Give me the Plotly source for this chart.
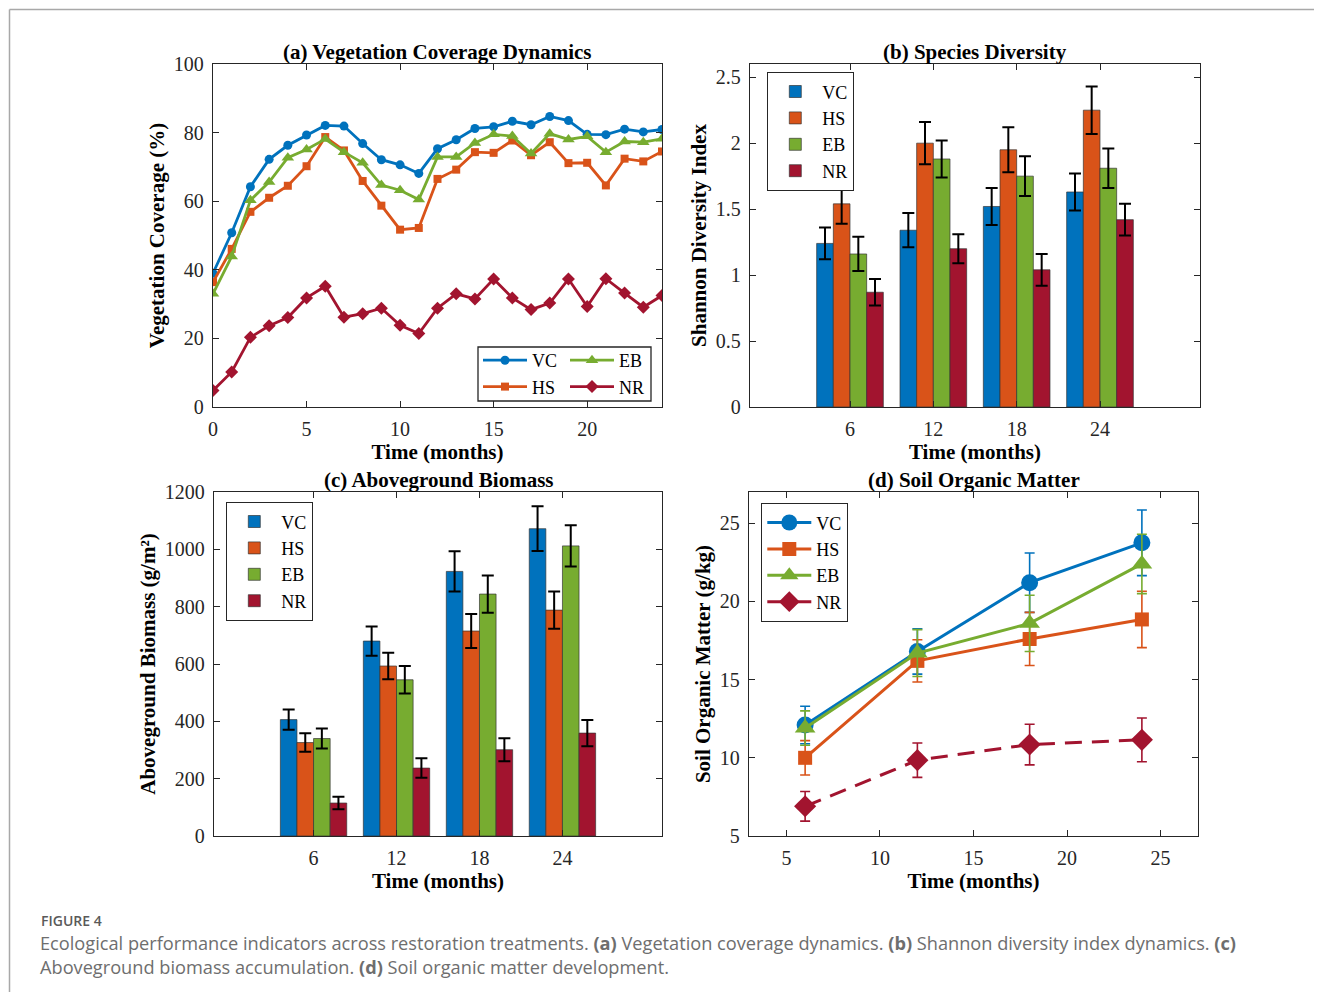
import plotly.graph_objects as go

# ---------------- data ----------------
treatments = ["VC", "HS", "EB", "NR"]
colors = {"VC": "#0072BD", "HS": "#D95319", "EB": "#77AC30", "NR": "#A2142F"}

# (a) vegetation coverage, monthly 0..24
months = list(range(0, 25))
cov_VC = [39.0, 50.8, 64.2, 72.2, 76.3, 79.3, 82.1, 81.9, 76.8, 72.1, 70.6, 68.1, 75.3,
          77.9, 81.2, 81.7, 83.3, 82.3, 84.7, 83.5, 79.5, 79.4, 81.0, 80.2, 80.9]
cov_HS = [36.4, 46.1, 56.9, 61.0, 64.5, 70.2, 78.7, 74.8, 65.9, 58.7, 51.7, 52.2, 66.5,
          69.2, 74.3, 74.1, 77.7, 73.4, 77.2, 71.1, 71.2, 64.6, 72.4, 71.6, 74.5]
cov_EB = [33.0, 43.9, 60.3, 65.6, 72.7, 75.1, 78.1, 74.3, 71.2, 64.7, 63.2, 60.5, 72.9,
          72.9, 77.0, 79.5, 79.0, 73.9, 79.7, 78.0, 78.9, 74.3, 77.4, 77.2, 78.2]
cov_NR = [4.8, 10.2, 20.3, 23.7, 26.1, 31.8, 35.2, 26.2, 27.2, 28.8, 23.8, 21.4, 28.8,
          33.0, 31.5, 37.3, 31.8, 28.4, 30.3, 37.3, 29.3, 37.4, 33.2, 29.1, 32.5]

# sampling times for (b), (c), (d)
sample_months = [6, 12, 18, 24]
sample_labels = ["6", "12", "18", "24"]

# (b) Shannon diversity index and error
div_VC = [1.24, 1.34, 1.52, 1.63]
div_HS = [1.54, 2.00, 1.95, 2.25]
div_EB = [1.16, 1.88, 1.75, 1.81]
div_NR = [0.87, 1.20, 1.04, 1.42]
div_err_VC = [0.12, 0.13, 0.14, 0.14]
div_err_HS = [0.15, 0.16, 0.17, 0.18]
div_err_EB = [0.13, 0.14, 0.15, 0.15]
div_err_NR = [0.10, 0.11, 0.12, 0.12]

# (c) aboveground biomass and error
bio_VC = [406, 680, 923, 1072]
bio_HS = [326, 593, 715, 788]
bio_EB = [340, 545, 844, 1012]
bio_NR = [115, 237, 301, 359]
bio_err_VC = [35, 51, 70, 78]
bio_err_HS = [32, 46, 59, 65]
bio_err_EB = [35, 48, 65, 72]
bio_err_NR = [22, 34, 40, 46]

# (d) soil organic matter and error
som_VC = [12.1, 16.8, 21.2, 23.75]
som_HS = [10.0, 16.2, 17.6, 18.85]
som_EB = [11.9, 16.7, 18.6, 22.4]
som_NR = [6.9, 9.85, 10.85, 11.15]
som_err_VC = [1.2, 1.45, 1.9, 2.1]
som_err_HS = [1.1, 1.35, 1.7, 1.8]
som_err_EB = [1.1, 1.5, 1.8, 1.9]
som_err_NR = [0.95, 1.1, 1.3, 1.4]

caption_head = "FIGURE 4"
caption_line1 = ("Ecological performance indicators across restoration treatments. <b>(a)</b> Vegetation "
                 "coverage dynamics. <b>(b)</b> Shannon diversity index dynamics. <b>(c)</b>")
caption_line2 = "Aboveground biomass accumulation. <b>(d)</b> Soil organic matter development."

cov = {"VC": cov_VC, "HS": cov_HS, "EB": cov_EB, "NR": cov_NR}
div = {"VC": div_VC, "HS": div_HS, "EB": div_EB, "NR": div_NR}
div_err = {"VC": div_err_VC, "HS": div_err_HS, "EB": div_err_EB, "NR": div_err_NR}
bio = {"VC": bio_VC, "HS": bio_HS, "EB": bio_EB, "NR": bio_NR}
bio_err = {"VC": bio_err_VC, "HS": bio_err_HS, "EB": bio_err_EB, "NR": bio_err_NR}
som = {"VC": som_VC, "HS": som_HS, "EB": som_EB, "NR": som_NR}
som_err = {"VC": som_err_VC, "HS": som_err_HS, "EB": som_err_EB, "NR": som_err_NR}

# ---------------- styling ----------------
# page is 1322x1000; the html body keeps its default 8px margin, so the
# figure itself is 16px smaller and everything is positioned in page pixels
OFF = 8
W, H = 1322 - 2 * OFF, 1000 - 2 * OFF
SERIF = "Liberation Serif, Times New Roman, serif"
INK = "#262626"
symbols = {"VC": "circle", "HS": "square", "EB": "triangle-up", "NR": "diamond"}
size_a = {"VC": 9, "HS": 8, "EB": 11, "NR": 10}
size_d = {"VC": 17, "HS": 14, "EB": 18, "NR": 17}

def px_x(p):
    return (p - OFF) / W

def px_y(p):
    return 1 - (p - OFF) / H

fig = go.Figure()

# (a) lines
legend_a = {"VC": "legend", "HS": "legend", "EB": "legend2", "NR": "legend2"}
for t in treatments:
    fig.add_trace(go.Scatter(
        x=months, y=cov[t], name=t, mode="lines+markers",
        line=dict(color=colors[t], width=2.8),
        marker=dict(symbol=symbols[t], size=size_a[t], color=colors[t]),
        xaxis="x", yaxis="y", legend=legend_a[t]))

# (b) bars
for t in treatments:
    fig.add_trace(go.Bar(
        x=sample_labels, y=div[t], name=t,
        marker=dict(color=colors[t], line=dict(color="rgba(50,50,50,0.85)", width=0.8)),
        error_y=dict(type="data", array=div_err[t], color="black", thickness=2, width=6),
        xaxis="x2", yaxis="y2", legend="legend3"))

# (c) bars
for t in treatments:
    fig.add_trace(go.Bar(
        x=sample_labels, y=bio[t], name=t,
        marker=dict(color=colors[t], line=dict(color="rgba(50,50,50,0.85)", width=0.8)),
        error_y=dict(type="data", array=bio_err[t], color="black", thickness=2, width=6),
        xaxis="x3", yaxis="y3", legend="legend4"))

# (d) lines with error bars
for t in treatments:
    fig.add_trace(go.Scatter(
        x=sample_months, y=som[t], name=t, mode="lines+markers",
        line=dict(color=colors[t], width=3, dash="17px,10px" if t == "NR" else "solid"),
        marker=dict(symbol=symbols[t], size=size_d[t], color=colors[t]),
        error_y=dict(type="data", array=som_err[t], color=colors[t], thickness=1.6, width=5),
        xaxis="x4", yaxis="y4", legend="legend5"))

axis_common = dict(
    showline=True, mirror="ticks", linecolor=INK, linewidth=1.3,
    ticks="inside", ticklen=6, tickwidth=1.2, tickcolor=INK,
    showgrid=False, zeroline=False, automargin=False,
    tickfont=dict(family=SERIF, size=20, color=INK),
    ticklabelstandoff=4,
)
title_font = dict(family=SERIF, size=21, color="black", weight="bold")

def xt(text):
    return dict(text=text, font=title_font, standoff=5)

def yt(text):
    return dict(text=text, font=title_font, standoff=3)

dom_a_x = [px_x(213), px_x(662)]
dom_b_x = [px_x(750), px_x(1200)]
dom_c_x = [px_x(214), px_x(662)]
dom_d_x = [px_x(749), px_x(1198)]
dom_top_y = [px_y(407), px_y(64)]
dom_bot_y = [px_y(836), px_y(492)]

fig.update_layout(
    width=W, height=H, margin=dict(l=0, r=0, t=0, b=0, pad=0, autoexpand=False),
    paper_bgcolor="white", plot_bgcolor="white",
    font=dict(family=SERIF, color=INK),
    barmode="group", bargap=0.2, bargroupgap=0,
    xaxis=dict(domain=dom_a_x, range=[0, 24], dtick=5, tick0=0, anchor="y",
               title=xt("Time (months)"), **axis_common),
    yaxis=dict(domain=dom_top_y, range=[0, 100], dtick=20, anchor="x",
               title=yt("Vegetation Coverage (%)"), **axis_common),
    xaxis2=dict(domain=dom_b_x, type="category", range=[-1.2, 4.2], anchor="y2",
                title=xt("Time (months)"), **axis_common),
    yaxis2=dict(domain=dom_top_y, range=[0, 2.6], dtick=0.5, tick0=0, anchor="x2",
                title=yt("Shannon Diversity Index"), **axis_common),
    xaxis3=dict(domain=dom_c_x, type="category", range=[-1.2, 4.2], anchor="y3",
                title=xt("Time (months)"), **axis_common),
    yaxis3=dict(domain=dom_bot_y, range=[0, 1200], dtick=200, tick0=0, anchor="x3",
                title=yt("Aboveground Biomass (g/m²)"), **axis_common),
    xaxis4=dict(domain=dom_d_x, range=[3, 27], dtick=5, tick0=5, anchor="y4",
                title=xt("Time (months)"), **axis_common),
    yaxis4=dict(domain=dom_bot_y, range=[5, 27], dtick=5, tick0=5, anchor="x4",
                title=yt("Soil Organic Matter (g/kg)"), **axis_common),
)

leg_font = dict(family=SERIF, size=18, color="black")
boxed = dict(bgcolor="white", bordercolor=INK, borderwidth=1.3, font=leg_font,
             xanchor="left", yanchor="top", tracegroupgap=0, itemwidth=44)
plain = dict(bgcolor="rgba(0,0,0,0)", borderwidth=0, font=leg_font,
             xanchor="left", yanchor="top", tracegroupgap=0, itemwidth=44)
fig.update_layout(
    legend=dict(x=px_x(478), y=px_y(342), **plain),
    legend2=dict(x=px_x(565), y=px_y(342), **plain),
    legend3=dict(x=px_x(767), y=px_y(72), **boxed),
    legend4=dict(x=px_x(226), y=px_y(502), **boxed),
    legend5=dict(x=px_x(761), y=px_y(503), **boxed),
)

shapes = [
    # box around the two-column legend of panel (a)
    dict(type="rect", xref="paper", yref="paper", x0=px_x(478), x1=px_x(651),
         y0=px_y(401), y1=px_y(347), line=dict(color=INK, width=1.3), layer="above"),
    # page frame lines
    dict(type="line", xref="paper", yref="paper", x0=px_x(9.5), x1=1, y0=px_y(9.5), y1=px_y(9.5),
         line=dict(color="#a8a8a8", width=1.5)),
    dict(type="line", xref="paper", yref="paper", x0=px_x(9.5), x1=px_x(9.5), y0=0, y1=px_y(9.5),
         line=dict(color="#a8a8a8", width=1.5)),
]
fig.update_layout(shapes=shapes)

panel_titles = [("x domain", "y domain", "(a) Vegetation Coverage Dynamics"),
                ("x2 domain", "y2 domain", "(b) Species Diversity"),
                ("x3 domain", "y3 domain", "(c) Aboveground Biomass"),
                ("x4 domain", "y4 domain", "(d) Soil Organic Matter")]
annotations = []
for xr, yr, txt in panel_titles:
    annotations.append(dict(xref=xr, yref=yr, x=0.5, y=1, xanchor="center", yanchor="bottom",
                            text=txt, showarrow=False, yshift=-2,
                            font=dict(family=SERIF, size=21, color="black", weight="bold")))
CAP = "Open Sans, Noto Sans, sans-serif"
annotations.append(dict(xref="paper", yref="paper", x=px_x(39), y=px_y(920), xanchor="left",
                        yanchor="middle", text=caption_head, showarrow=False,
                        font=dict(family=CAP, size=14, color="#5a5a5a", weight=600)))
annotations.append(dict(xref="paper", yref="paper", x=px_x(38), y=px_y(943), xanchor="left",
                        yanchor="middle", text=caption_line1, showarrow=False,
                        font=dict(family=CAP, size=18.2, color="#6e6e6e")))
annotations.append(dict(xref="paper", yref="paper", x=px_x(38), y=px_y(967), xanchor="left",
                        yanchor="middle", text=caption_line2, showarrow=False,
                        font=dict(family=CAP, size=18.2, color="#6e6e6e")))
fig.update_layout(annotations=annotations)

fig.write_html("out.html", config={"displayModeBar": False})
